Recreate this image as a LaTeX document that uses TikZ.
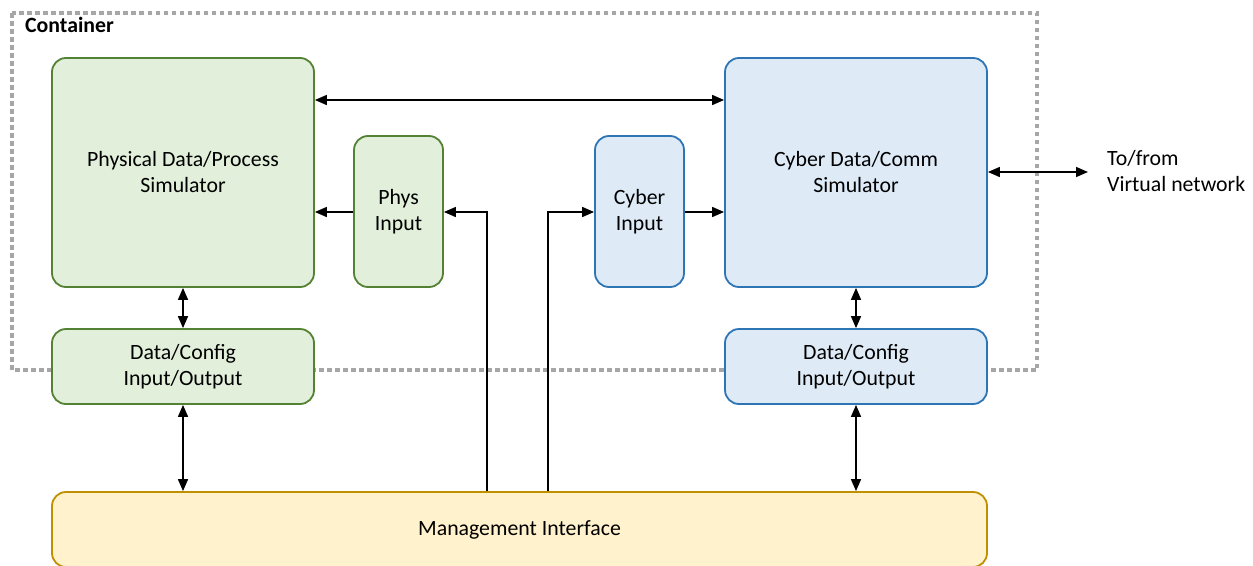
\documentclass[tikz,border=0pt]{standalone}
\usepackage{fontspec}
\setmainfont{Carlito}
\usetikzlibrary{arrows.meta}

\definecolor{physfill}{HTML}{E2EFDA}
\definecolor{physline}{HTML}{548235}
\definecolor{cyberfill}{HTML}{DEEBF7}
\definecolor{cyberline}{HTML}{2E75B6}
\definecolor{mgmtfill}{HTML}{FFF2CC}
\definecolor{mgmtline}{HTML}{BF9000}
\definecolor{boxgray}{HTML}{A6A6A6}

\begin{document}
\begin{tikzpicture}[x=1pt, y=-1pt, font=\fontsize{21.8}{26}\selectfont,
    block/.style={rounded corners=14pt, line width=1.8pt, inner sep=0pt, align=center},
    phys/.style={block, draw=physline, fill=physfill},
    cyber/.style={block, draw=cyberline, fill=cyberfill},
    mgmt/.style={block, draw=mgmtline, fill=mgmtfill},
    link/.style={line width=1.6pt, -{Triangle[length=12pt, width=10pt]}},
    both/.style={line width=1.6pt, {Triangle[length=12pt, width=10pt]}-{Triangle[length=12pt, width=10pt]}}]

    \useasboundingbox (0,0) rectangle (1253,565);

    % container
    \draw[boxgray, line width=4pt, dash pattern=on 4.5pt off 3.5pt] (12,13) rectangle (1037,370);
    \node[anchor=west, inner sep=0pt, font=\fontsize{21.8}{26}\selectfont\bfseries] (cont) at (25,25) {Container};

    \node[phys, minimum width=262pt, minimum height=229pt] (psim) at (183,172.5) {Physical Data/Process\\Simulator};
    \node[phys, minimum width=89pt, minimum height=151pt] (pin) at (398.5,211.5) {Phys\\Input};
    \node[cyber, minimum width=89pt, minimum height=151pt] (cin) at (639.5,211.5) {Cyber\\Input};
    \node[cyber, minimum width=262pt, minimum height=229pt] (csim) at (856,172.5) {Cyber Data/Comm\\Simulator};
    \node[phys, minimum width=262pt, minimum height=75pt] (pio) at (183,366.5) {Data/Config\\Input/Output};
    \node[cyber, minimum width=262pt, minimum height=75pt] (cio) at (856,366.5) {Data/Config\\Input/Output};
    \node[mgmt, minimum width=935pt, minimum height=75pt] (mgmt) at (519.5,529.5) {Management Interface};
    \node[anchor=west, align=left, inner sep=0pt] (net) at (1107,171) {To/from\\Virtual network};

    \coordinate (netend) at (1088,172);

    \path
        (psim.east |- 0,100) edge[both] (csim.west |- 0,100)
        (pin.west |- 0,212) edge[link] (psim.east |- 0,212)
        (cin.east |- 0,212) edge[link] (csim.west |- 0,212)
        (psim.south) edge[both] (pio.north)
        (pio.south) edge[both] (mgmt.north -| pio.south)
        (csim.south) edge[both] (cio.north)
        (cio.south) edge[both] (mgmt.north -| cio.south)
        (csim.east |- netend) edge[both] (netend)
        ;
    \draw[link] (mgmt.north -| 487,0) |- (pin.east |- 0,212);
    \draw[link] (mgmt.north -| 548,0) |- (cin.west |- 0,212);
\end{tikzpicture}
\end{document}
